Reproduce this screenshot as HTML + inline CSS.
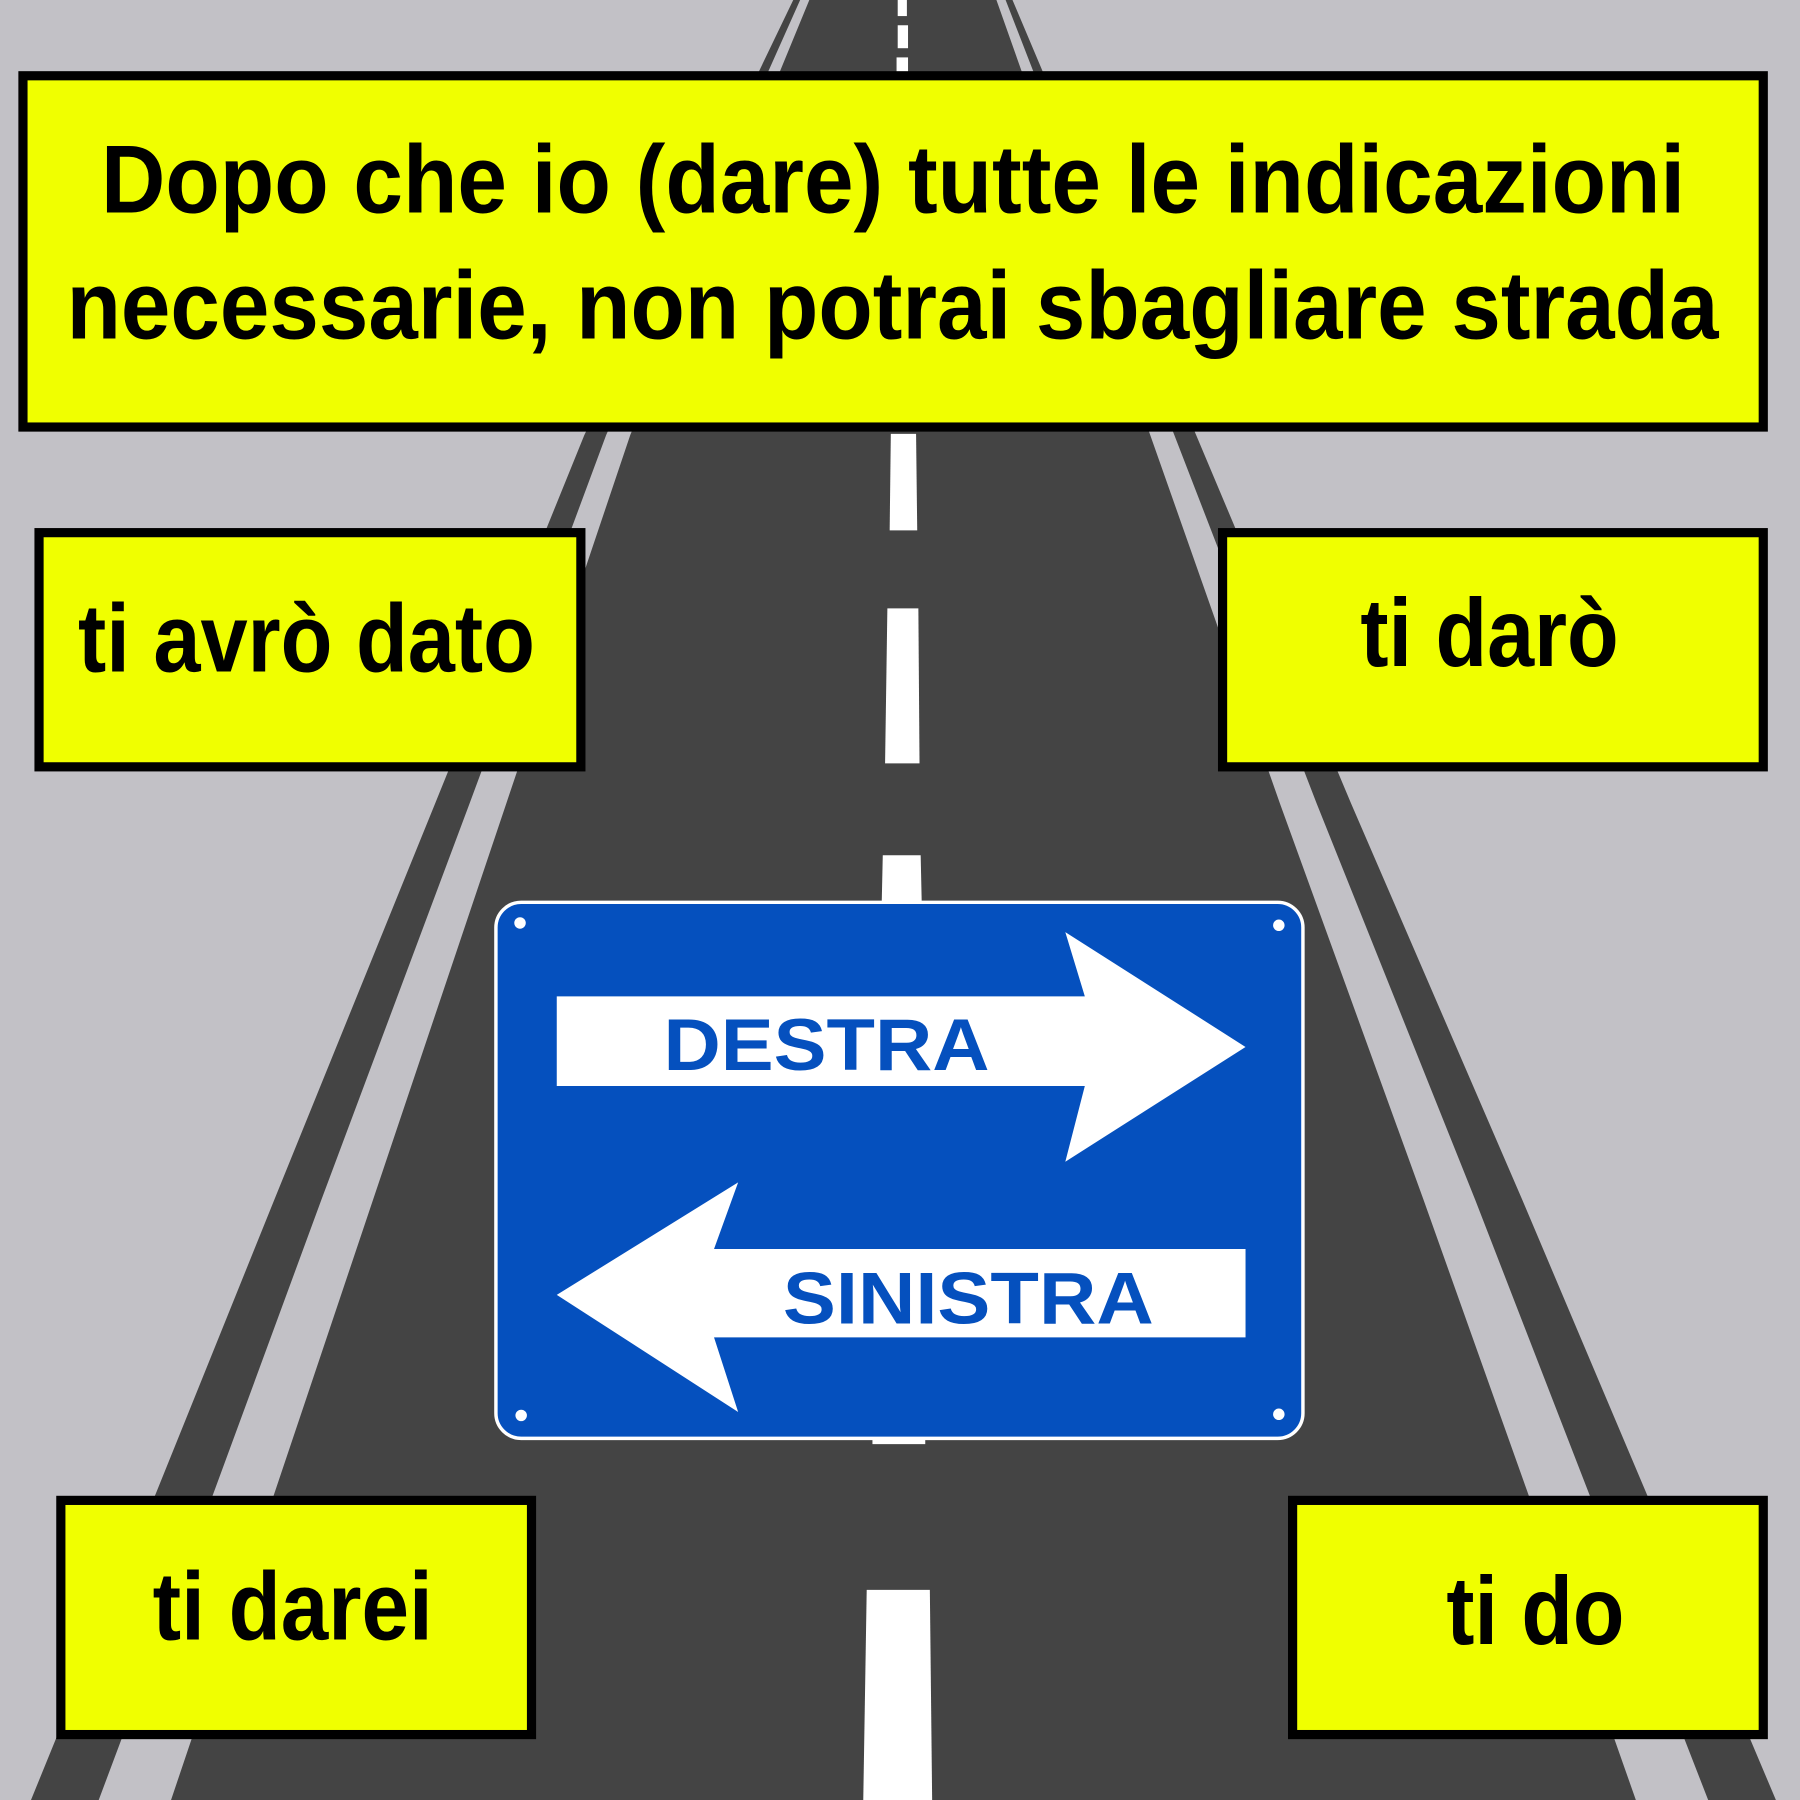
<!DOCTYPE html>
<html><head><meta charset="utf-8"><style>html,body{margin:0;padding:0;background:#c2c1c6}svg{display:block}</style></head>
<body>
<svg width="1800" height="1800" viewBox="0 0 1568 1568" xmlns="http://www.w3.org/2000/svg">
<rect width="1568" height="1568" fill="#c2c1c6"/>
<g fill="#444">
<polygon points="705,0 868,0 1002,379 1115,700 1240,1045 1330,1298 1425,1568 149,1568 240,1298 325,1045 441,700 549,379"/>
<polygon points="691,0 697,0 528,379 409,700 280,1045 187,1298 86,1568 27,1568 137,1298 239,1045 379,700 509,379"/>
<polygon points="876,0 882,0 1042,379 1177,700 1326,1045 1433,1298 1547,1568 1488,1568 1383,1298 1285,1045 1147,700 1023,379"/>
</g>
<g fill="#fff">
<rect x="782" y="0" width="8" height="14"/>
<rect x="782" y="22" width="9" height="20"/>
<rect x="781" y="50" width="10" height="14"/>
<polygon points="776,378 798,378 799,462 775,462"/>
<polygon points="773,530 800,530 801,665 771,665"/>
<polygon points="769,745 802,745 803,790 768,790"/>
<polygon points="760,1250 806,1250 806,1258 760,1258"/>
<polygon points="755,1385 810,1385 812,1568 752,1568"/>
</g>
<rect x="432" y="786" width="703" height="467" rx="22" fill="#0550be" stroke="#fff" stroke-width="3"/>
<g fill="#fff">
<circle cx="453" cy="804" r="5"/><circle cx="1114" cy="806" r="5"/>
<circle cx="454" cy="1233" r="5"/><circle cx="1114" cy="1232" r="5"/>
<polygon points="485,868 945,868 928,812 1085,912 928,1012 945,946 485,946"/>
<polygon points="1085,1088 622,1088 643,1030 485,1128 643,1230 622,1165 1085,1165"/>
</g>
<g font-family="Liberation Sans, sans-serif" font-weight="bold" fill="#0550be" font-size="64">
<text x="578" y="932" textLength="284" lengthAdjust="spacingAndGlyphs">DESTRA</text>
<text x="682" y="1153" textLength="323" lengthAdjust="spacingAndGlyphs">SINISTRA</text>
</g>
<g fill="#f0ff00" stroke="#000" stroke-width="8">
<rect x="20" y="66" width="1516" height="306"/>
<rect x="34" y="464" width="472" height="204"/>
<rect x="1065" y="464" width="471" height="204"/>
<rect x="53" y="1307" width="410" height="204"/>
<rect x="1126" y="1307" width="410" height="204"/>
</g>
<g font-family="Liberation Sans Narrow, Liberation Sans, sans-serif" font-weight="bold" fill="#000" font-size="84">
<text x="88" y="185" textLength="1380" lengthAdjust="spacingAndGlyphs">Dopo che io (dare) tutte le indicazioni</text>
<text x="58" y="295" textLength="1439" lengthAdjust="spacingAndGlyphs">necessarie, non potrai sbagliare strada</text>
<text x="68" y="585" textLength="398" lengthAdjust="spacingAndGlyphs">ti avrò dato</text>
<text x="1185" y="580" textLength="225" lengthAdjust="spacingAndGlyphs">ti darò</text>
<text x="133" y="1428" textLength="244" lengthAdjust="spacingAndGlyphs">ti darei</text>
<text x="1260" y="1432" textLength="155" lengthAdjust="spacingAndGlyphs">ti do</text>
</g>
</svg>
</body></html>
